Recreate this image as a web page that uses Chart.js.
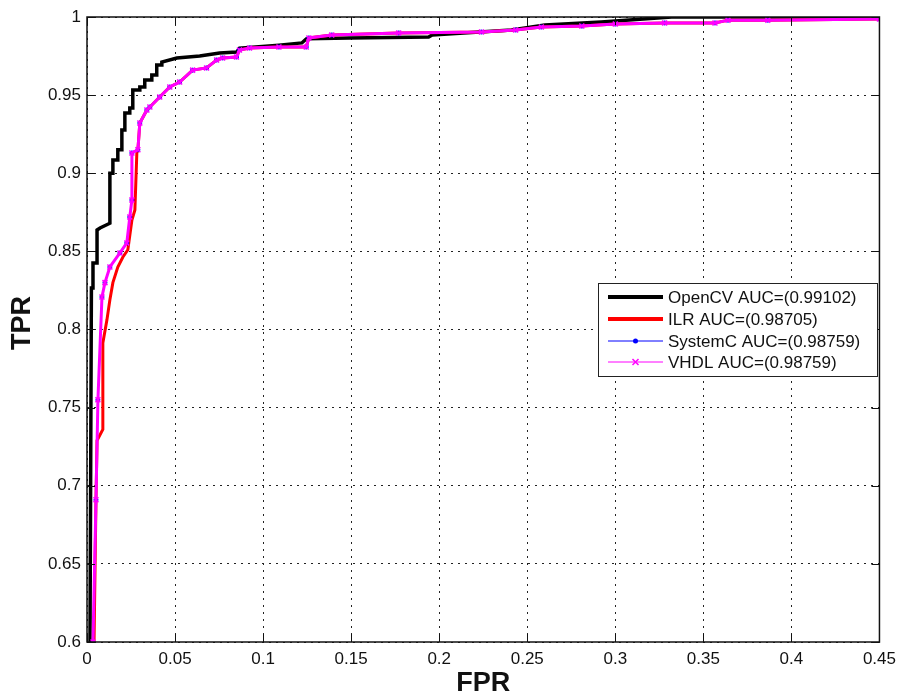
<!DOCTYPE html>
<html>
<head>
<meta charset="utf-8">
<title>ROC</title>
<script src="https://cdn.jsdelivr.net/npm/chart.js@4.4.1/dist/chart.umd.min.js"></script>
<style>
  html, body { margin: 0; padding: 0; background: #fff; }
  canvas { display: block; }
</style>
</head>
<body>
<canvas id="roc" width="903" height="696"></canvas>
<script>
// values (FPR on x, TPR on y)
const seriesNames = ['OpenCV AUC=(0.99102)', 'ILR AUC=(0.98705)', 'SystemC AUC=(0.98759)', 'VHDL AUC=(0.98759)'];

const opencvFpr = [0.0017, 0.0025, 0.0034, 0.0034, 0.0057, 0.0057, 0.0074, 0.013, 0.013, 0.0147, 0.0147, 0.0175, 0.0175,
  0.0198, 0.0198, 0.0215, 0.0215, 0.0243, 0.0243, 0.026, 0.026, 0.030, 0.030, 0.0328, 0.0328, 0.0368, 0.0368, 0.0396,
  0.0396, 0.0425, 0.0425, 0.051, 0.064, 0.0753, 0.085, 0.0866, 0.109, 0.122, 0.1245, 0.149, 0.194, 0.196, 0.241, 0.26,
  0.292, 0.332, 0.45];
const opencvTpr = [0.600, 0.8266, 0.8266, 0.8426, 0.8426, 0.8637, 0.8650, 0.868, 0.900, 0.900, 0.9085, 0.9085, 0.915,
  0.915, 0.9277, 0.9277, 0.9386, 0.9386, 0.9418, 0.9418, 0.9533, 0.9533, 0.9552, 0.9552, 0.9597, 0.9597, 0.9629, 0.9629,
  0.9693, 0.9693, 0.9712, 0.9738, 0.975, 0.977, 0.9776, 0.980, 0.982, 0.9834, 0.986, 0.9866, 0.9872, 0.9885, 0.9917,
  0.9949, 0.9968, 1.0, 1.0];

const ilrFpr = [0.004, 0.0051, 0.0057, 0.009, 0.009, 0.0113, 0.013, 0.0147, 0.0175, 0.0204, 0.0232, 0.0255, 0.0272,
  0.0283, 0.0289, 0.030, 0.034, 0.0357, 0.0413, 0.047, 0.0526, 0.060, 0.0679, 0.0736, 0.077, 0.0849, 0.0866, 0.0923,
  0.109, 0.1245, 0.126, 0.139, 0.177, 0.224, 0.2434, 0.258, 0.281, 0.300, 0.328, 0.3566, 0.364, 0.3866, 0.45];
const ilrTpr = [0.600, 0.691, 0.729, 0.736, 0.7914, 0.806, 0.819, 0.830, 0.840, 0.8464, 0.851, 0.870, 0.8765,
  0.913, 0.915, 0.9322, 0.9405, 0.9424, 0.9488, 0.9552, 0.9584, 0.966, 0.9674, 0.9725, 0.9738, 0.9744, 0.9789, 0.9802,
  0.9808, 0.9808, 0.9866, 0.9885, 0.9898, 0.9904, 0.9917, 0.9936, 0.9942, 0.9955, 0.9962, 0.9962, 0.998, 0.998, 0.9987];

const vhdlFpr = [0.0034, 0.0051, 0.0062, 0.0085, 0.0102, 0.013, 0.0187, 0.0226, 0.0243, 0.0255, 0.0255, 0.0289, 0.030,
  0.034, 0.0357, 0.0413, 0.047, 0.0526, 0.060, 0.0679, 0.0736, 0.077, 0.0849, 0.0866, 0.0923, 0.109, 0.1245, 0.126,
  0.139, 0.177, 0.224, 0.2434, 0.258, 0.281, 0.300, 0.328, 0.3566, 0.364, 0.3866, 0.45];
const vhdlTpr = [0.600, 0.691, 0.755, 0.8208, 0.830, 0.840, 0.849, 0.8554, 0.872, 0.8829, 0.913, 0.915, 0.9322,
  0.9405, 0.9424, 0.9488, 0.9552, 0.9584, 0.966, 0.9674, 0.9725, 0.9738, 0.9744, 0.9789, 0.9802, 0.9808, 0.9808, 0.9866,
  0.9885, 0.9898, 0.9904, 0.9917, 0.9936, 0.9942, 0.9955, 0.9962, 0.9962, 0.998, 0.998, 0.9987];

// SystemC and VHDL give the same curve (same AUC), it is drawn under VHDL
const systemcFpr = vhdlFpr;
const systemcTpr = vhdlTpr;

const xTickLabels = ['0', '0.05', '0.1', '0.15', '0.2', '0.25', '0.3', '0.35', '0.4', '0.45'];
const yTickLabels = ['0.6', '0.65', '0.7', '0.75', '0.8', '0.85', '0.9', '0.95', '1'];

const FONT = 'Arial, "Liberation Sans", sans-serif';

function toPoints(xs, ys) {
    return xs.map((x, i) => ({ x: x, y: ys[i] }));
}

// frame with inward tick marks (matlab style)
const framePlugin = {
    id: 'frame',
    afterDatasetsDraw(chart) {
        const { ctx, chartArea: a, scales } = chart;
        ctx.save();
        ctx.strokeStyle = '#111';
        ctx.lineWidth = 1.5;
        ctx.strokeRect(a.left, a.top, a.right - a.left, a.bottom - a.top);
        ctx.lineWidth = 1;
        ctx.beginPath();
        scales.x.ticks.forEach(t => {
            const px = Math.round(scales.x.getPixelForValue(t.value)) + 0.5;
            ctx.moveTo(px, a.bottom); ctx.lineTo(px, a.bottom - 8);
            ctx.moveTo(px, a.top); ctx.lineTo(px, a.top + 8);
        });
        scales.y.ticks.forEach(t => {
            const py = Math.round(scales.y.getPixelForValue(t.value)) + 0.5;
            ctx.moveTo(a.left, py); ctx.lineTo(a.left + 8, py);
            ctx.moveTo(a.right, py); ctx.lineTo(a.right - 8, py);
        });
        ctx.stroke();
        ctx.restore();
    }
};

// boxed legend inside the plot, like the original figure
const boxLegendPlugin = {
    id: 'boxLegend',
    afterDraw(chart) {
        const ctx = chart.ctx;
        const box = { x: 598.5, y: 283.5, w: 279, h: 93 };
        const rows = [297, 319, 341, 362];
        ctx.save();
        ctx.fillStyle = '#fff';
        ctx.fillRect(box.x, box.y, box.w, box.h);
        ctx.strokeStyle = '#222';
        ctx.lineWidth = 1;
        ctx.strokeRect(box.x, box.y, box.w, box.h);
        chart.data.datasets.forEach((ds, i) => {
            const y = rows[i];
            ctx.strokeStyle = ds.borderColor;
            ctx.lineWidth = ds.legendWidth;
            ctx.beginPath();
            ctx.moveTo(608, y);
            ctx.lineTo(663, y);
            ctx.stroke();
            if (ds.pointStyle === 'circle') {
                ctx.fillStyle = ds.borderColor;
                ctx.beginPath();
                ctx.arc(635.5, y, 2.5, 0, Math.PI * 2);
                ctx.fill();
            } else if (ds.pointStyle === 'crossRot') {
                ctx.lineWidth = 1.5;
                ctx.beginPath();
                ctx.moveTo(632.5, y - 3); ctx.lineTo(638.5, y + 3);
                ctx.moveTo(638.5, y - 3); ctx.lineTo(632.5, y + 3);
                ctx.stroke();
            }
            ctx.fillStyle = '#111';
            ctx.font = '17px ' + FONT;
            ctx.textAlign = 'left';
            ctx.textBaseline = 'middle';
            ctx.fillText(ds.label, 668, y + 1);
        });
        ctx.restore();
    }
};

// axis titles
const titlesPlugin = {
    id: 'axisTitles',
    afterDraw(chart) {
        const { ctx, chartArea: a } = chart;
        ctx.save();
        ctx.fillStyle = '#111';
        ctx.font = 'bold 27px ' + FONT;
        ctx.textAlign = 'center';
        ctx.textBaseline = 'middle';
        ctx.fillText('FPR', (a.left + a.right) / 2, 684);
        ctx.translate(23, 323);
        ctx.rotate(-Math.PI / 2);
        ctx.fillText('TPR', 0, 0);
        ctx.restore();
    }
};

const datasets = [
    {
        label: seriesNames[0],
        data: toPoints(opencvFpr, opencvTpr),
        borderColor: '#000000',
        borderWidth: 3.5,
        legendWidth: 4,
        pointRadius: 0,
        order: 4
    },
    {
        label: seriesNames[1],
        data: toPoints(ilrFpr, ilrTpr),
        borderColor: '#ff0000',
        borderWidth: 3,
        legendWidth: 4,
        pointRadius: 0,
        order: 3
    },
    {
        label: seriesNames[2],
        data: toPoints(systemcFpr, systemcTpr),
        borderColor: '#0000ff',
        backgroundColor: '#0000ff',
        borderWidth: 1,
        legendWidth: 1,
        pointStyle: 'circle',
        pointRadius: 2,
        order: 2
    },
    {
        label: seriesNames[3],
        data: toPoints(vhdlFpr, vhdlTpr),
        borderColor: '#ff00ff',
        backgroundColor: '#ff00ff',
        borderWidth: 3,
        legendWidth: 1,
        pointStyle: 'crossRot',
        pointRadius: 3.5,
        pointBorderWidth: 1.5,
        order: 1
    }
];

const tickFont = { family: FONT, size: 17 };

new Chart(document.getElementById('roc').getContext('2d'), {
    type: 'line',
    data: { datasets: datasets },
    options: {
        responsive: false,
        animation: false,
        events: [],
        layout: { padding: { top: 17, right: 21, left: 0, bottom: 0 } },
        elements: { line: { tension: 0, fill: false } },
        scales: {
            x: {
                type: 'linear',
                min: 0,
                max: 0.45,
                afterFit: (scale) => { scale.height = 54; },
                ticks: {
                    stepSize: 0.05,
                    padding: 7,
                    color: '#111',
                    font: tickFont,
                    maxRotation: 0,
                    autoSkip: false,
                    callback: (v, i) => xTickLabels[i]
                },
                grid: { color: '#222', lineWidth: 1, drawTicks: false },
                border: { display: false, dash: [2, 5] }
            },
            y: {
                type: 'linear',
                min: 0.6,
                max: 1,
                afterFit: (scale) => { scale.width = 87; },
                ticks: {
                    stepSize: 0.05,
                    padding: 6,
                    color: '#111',
                    font: tickFont,
                    autoSkip: false,
                    callback: (v, i) => yTickLabels[i]
                },
                grid: { color: '#222', lineWidth: 1, drawTicks: false },
                border: { display: false, dash: [2, 5] }
            }
        },
        plugins: {
            legend: { display: false },
            tooltip: { enabled: false }
        }
    },
    plugins: [framePlugin, boxLegendPlugin, titlesPlugin]
});
</script>
</body>
</html>
